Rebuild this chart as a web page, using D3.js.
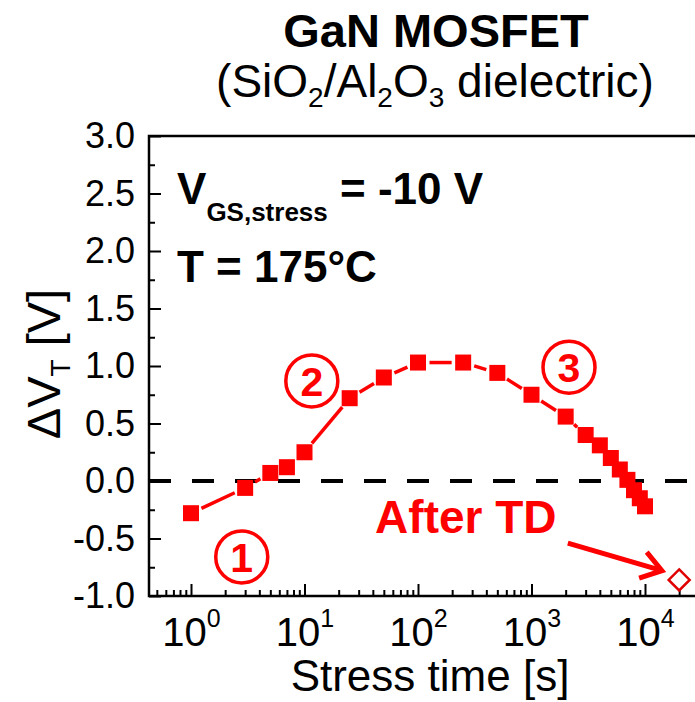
<!DOCTYPE html>
<html>
<head>
<meta charset="utf-8">
<script src="https://cdn.jsdelivr.net/npm/d3@7"></script>
<style>
body { margin: 0; background: #fff; }
text { font-family: Arial, "Liberation Sans", sans-serif; }
</style>
</head>
<body>
<div id="graph"></div>
<script>
// data
var times = [1, 3, 5, 7, 10, 25, 50, 100, 250, 500, 1000, 2000, 3000, 4000, 5000, 6000, 7000, 8000, 9000, 10000];
var dVt = [-0.28, -0.06, 0.07, 0.12, 0.25, 0.72, 0.90, 1.03, 1.03, 0.94, 0.75, 0.56, 0.40, 0.31, 0.20, 0.10, 0.01, -0.08, -0.15, -0.22];
var afterTime = [20000];
var afterVal = [-0.86];
var yTicks = [-1, -0.5, 0, 0.5, 1, 1.5, 2, 2.5, 3];
var xTicks = [1, 10, 100, 1000, 10000];
var stageLabels = ['1', '2', '3'];

var width = 695,
    height = 702;

var red = '#ff0000';

var plotLeft = 149, plotTop = 136, plotBottom = 596, plotRight = 760;

var svg = d3.select('#graph')
    .append('svg')
        .attr('width', width)
        .attr('height', height);

var x = d3.scaleLog()
    .domain([1, 10000])
    .range([191, 645]);

var y = d3.scaleLinear()
    .domain([-1, 3])
    .range([plotBottom, plotTop]);

// title
svg.append('text')
    .attr('x', 436)
    .attr('y', 47)
    .attr('text-anchor', 'middle')
    .style('font-size', '47px')
    .style('font-weight', 'bold')
    .text('GaN MOSFET');

var sub = svg.append('text')
    .attr('x', 435)
    .attr('y', 97)
    .attr('text-anchor', 'middle')
    .style('font-size', '46px');
[['(SiO', 0], ['2', 1], ['/Al', -1], ['2', 1], ['O', -1], ['3', 1], [' dielectric)', -1]].forEach(function(p) {
    var t = sub.append('tspan').text(p[0]);
    if (p[1] == 1) t.style('font-size', '28px').attr('dy', 10);
    if (p[1] == -1) t.attr('dy', -10);
});

// zero line
svg.append('line')
    .attr('x1', plotLeft)
    .attr('x2', plotRight)
    .attr('y1', y(0))
    .attr('y2', y(0))
    .style('stroke', '#000')
    .style('stroke-width', 4)
    .style('stroke-dasharray', '22,21');

// y axis
var yMinor = d3.range(-1, 3.01, 0.25).filter(function(d) { return yTicks.indexOf(d) < 0; });
var yAxis = svg.append('g')
    .attr('transform', 'translate(' + plotLeft + ',0)')
    .call(d3.axisLeft(y).tickValues(yTicks).tickSizeInner(-12).tickSizeOuter(0).tickPadding(14)
        .tickFormat(function(d) { return d.toFixed(1); }));
svg.append('g')
    .attr('transform', 'translate(' + plotLeft + ',0)')
    .call(d3.axisLeft(y).tickValues(yMinor).tickSizeInner(-6).tickSizeOuter(0).tickFormat(''));

// x axis
var xMinor = [];
[0.1, 1, 10, 100, 1000, 10000].forEach(function(dec) {
    for (var k = 2; k < 10; k++) xMinor.push(dec * k);
});
xMinor = xMinor.filter(function(d) { return x(d) > plotLeft + 2 && x(d) < width; });
var xAxis = svg.append('g')
    .attr('transform', 'translate(0,' + plotBottom + ')')
    .call(d3.axisBottom(x).tickValues(xTicks).tickSizeInner(-12).tickSizeOuter(0).tickFormat(''));
svg.append('g')
    .attr('transform', 'translate(0,' + plotBottom + ')')
    .call(d3.axisBottom(x).tickValues(xMinor).tickSizeInner(-6).tickSizeOuter(0).tickFormat(''));

xAxis.selectAll('.tick').each(function(d) {
    var lab = d3.select(this).append('text')
        .attr('y', 50)
        .attr('fill', '#000')
        .attr('text-anchor', 'middle')
        .style('font-size', '40px');
    lab.append('tspan').text('10');
    lab.append('tspan').text(Math.round(Math.log10(d))).style('font-size', '25px').attr('dy', -19);
});

svg.selectAll('.domain').remove();
svg.selectAll('.tick line').style('stroke', '#000').style('stroke-width', 2);
yAxis.selectAll('text').style('font-size', '36px').attr('fill', '#000');

// frame
svg.append('rect')
    .attr('x', plotLeft)
    .attr('y', plotTop)
    .attr('width', plotRight - plotLeft)
    .attr('height', plotBottom - plotTop)
    .style('fill', 'none')
    .style('stroke', '#000')
    .style('stroke-width', 2.5);

// axis titles
svg.append('text')
    .attr('x', 430)
    .attr('y', 691)
    .attr('text-anchor', 'middle')
    .style('font-size', '44px')
    .text('Stress time [s]');

var yl = svg.append('text')
    .attr('transform', 'translate(60,364) rotate(-90)')
    .attr('text-anchor', 'middle')
    .style('font-size', '47px');
yl.append('tspan').text('\u0394V');
yl.append('tspan').text('T').style('font-size', '28px').attr('dy', 10);
yl.append('tspan').text(' [V]').attr('dy', -10);

// connecting line with gaps at the symbols
var pts = times.map(function(t, i) { return [x(t), y(dVt[i])]; });
var gap = 11.5;
for (var i = 0; i < pts.length - 1; i++) {
    var a = pts[i], b = pts[i + 1];
    var dx = b[0] - a[0], dy = b[1] - a[1];
    var len = Math.sqrt(dx * dx + dy * dy);
    if (len < 2 * gap + 3) continue;
    var ux = dx / len, uy = dy / len;
    svg.append('line')
        .attr('x1', a[0] + ux * gap)
        .attr('y1', a[1] + uy * gap)
        .attr('x2', b[0] - ux * gap)
        .attr('y2', b[1] - uy * gap)
        .style('stroke', red)
        .style('stroke-width', 3.5);
}

var sq = 16;
svg.append('g')
    .selectAll('rect')
    .data(times)
    .enter().append('rect')
        .attr('x', function(d) { return x(d) - sq / 2; })
        .attr('y', function(d, i) { return y(dVt[i]) - sq / 2; })
        .attr('width', sq)
        .attr('height', sq)
        .style('fill', red);

// after thermal detrapping
svg.append('g')
    .selectAll('path')
    .data(afterTime)
    .enter().append('path')
        .attr('d', function(d, i) {
            var cx = x(d), cy = y(afterVal[i]), r = 10.5;
            return 'M' + cx + ',' + (cy - r) + 'L' + (cx + r) + ',' + cy + 'L' + cx + ',' + (cy + r) + 'L' + (cx - r) + ',' + cy + 'Z';
        })
        .style('fill', '#fff')
        .style('stroke', '#e00000')
        .style('stroke-width', 2.5);

// annotations
var vg = svg.append('text')
    .attr('x', x(0.753))
    .attr('y', y(2.41))
    .style('font-size', '44px')
    .style('font-weight', 'bold');
vg.append('tspan').text('V');
vg.append('tspan').text('GS,stress').style('font-size', '26px').attr('dy', 17);
vg.append('tspan').text(' = -10 V').attr('dy', -17);

svg.append('text')
    .attr('x', x(0.753))
    .attr('y', y(1.73))
    .style('font-size', '44px')
    .style('font-weight', 'bold')
    .text('T = 175\u00b0C');

svg.append('text')
    .attr('x', x(41.9))
    .attr('y', y(-0.45))
    .style('font-size', '46px')
    .style('font-weight', 'bold')
    .style('fill', red)
    .text('After TD');

// arrow
var a0 = [x(2090), y(-0.54)], a1 = [x(14100), y(-0.78)];
var ang = Math.atan2(a1[1] - a0[1], a1[0] - a0[0]);
var arm = 24, spread = 0.6;
svg.append('path')
    .attr('d', 'M' + a0[0] + ',' + a0[1] + 'L' + a1[0] + ',' + a1[1] +
        'M' + (a1[0] - arm * Math.cos(ang - spread)) + ',' + (a1[1] - arm * Math.sin(ang - spread)) +
        'L' + a1[0] + ',' + a1[1] +
        'L' + (a1[0] - arm * Math.cos(ang + spread)) + ',' + (a1[1] - arm * Math.sin(ang + spread)))
    .style('fill', 'none')
    .style('stroke', red)
    .style('stroke-width', 5)
    .style('stroke-linejoin', 'miter');

// circled stage numbers
var stageT = [2.8, 11.6, 2140];
var stageV = [-0.66, 0.87, 0.99];
var stages = svg.append('g')
    .selectAll('g')
    .data(stageLabels)
    .enter().append('g')
        .attr('transform', function(d, i) { return 'translate(' + x(stageT[i]) + ',' + y(stageV[i]) + ')'; });
stages.append('circle')
    .attr('r', 26)
    .style('fill', 'none')
    .style('stroke', red)
    .style('stroke-width', 3.5);
stages.append('text')
    .attr('text-anchor', 'middle')
    .attr('dy', '0.36em')
    .style('font-size', '41px')
    .style('font-weight', 'bold')
    .style('fill', red)
    .text(function(d) { return d; });
</script>
</body>
</html>
